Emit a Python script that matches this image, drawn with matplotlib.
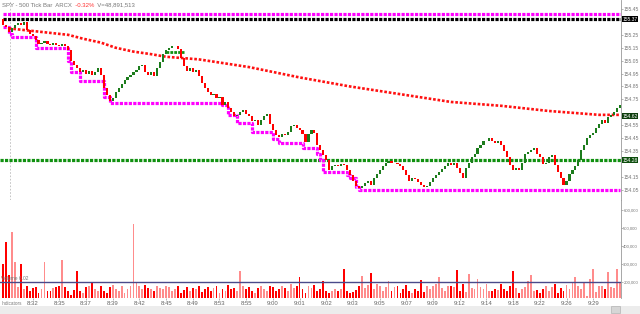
import numpy as np
import matplotlib
matplotlib.use("Agg")
import matplotlib.pyplot as plt
from matplotlib.patches import Rectangle

# SPY 500 tick bars
first_open = 155.37
closes = [
    155.33, 155.31, 155.27, 155.30, 155.33, 155.34, 155.33, 155.35, 155.29, 155.26,
    155.24, 155.21, 155.18, 155.19, 155.20, 155.18, 155.17, 155.19, 155.17, 155.16,
    155.18, 155.16, 155.13, 155.05, 155.02, 154.99, 154.96, 154.98, 154.95, 154.97,
    154.94, 154.96, 154.99, 154.94, 154.84, 154.78, 154.74, 154.76, 154.81, 154.84,
    154.87, 154.90, 154.92, 154.94, 154.96, 154.98, 155.01, 155.02, 154.96, 154.94,
    154.96, 154.93, 154.99, 155.04, 155.10, 155.13, 155.15, 155.16, 155.16, 155.14,
    155.07, 155.01, 154.97, 154.99, 154.96, 154.98, 154.93, 154.88, 154.84, 154.81,
    154.78, 154.79, 154.76, 154.77, 154.71, 154.73, 154.68, 154.65, 154.62, 154.63,
    154.65, 154.67, 154.64, 154.62, 154.58, 154.59, 154.55, 154.59, 154.62, 154.64,
    154.56, 154.51, 154.47, 154.46, 154.48, 154.47, 154.50, 154.54, 154.55, 154.53,
    154.51, 154.48, 154.42, 154.48, 154.51, 154.49, 154.40, 154.36, 154.32, 154.28,
    154.20, 154.23, 154.24, 154.23, 154.25, 154.24, 154.20, 154.16, 154.12, 154.08,
    154.06, 154.08, 154.10, 154.12, 154.09, 154.14, 154.17, 154.20, 154.23, 154.26,
    154.27, 154.26, 154.26, 154.25, 154.23, 154.20, 154.16, 154.12, 154.14, 154.13,
    154.11, 154.09, 154.07, 154.08, 154.11, 154.14, 154.16, 154.19, 154.21, 154.23,
    154.26, 154.24, 154.26, 154.22, 154.18, 154.14, 154.22, 154.26, 154.30, 154.33,
    154.37, 154.40, 154.43, 154.43, 154.45, 154.43, 154.41, 154.43, 154.40, 154.35,
    154.30, 154.24, 154.20, 154.22, 154.20, 154.26, 154.33, 154.34, 154.36, 154.37,
    154.33, 154.30, 154.25, 154.26, 154.30, 154.32, 154.24, 154.19, 154.14, 154.09,
    154.12, 154.17, 154.20, 154.23, 154.28, 154.36, 154.40, 154.45, 154.47, 154.49,
    154.53, 154.56, 154.59, 154.57, 154.61, 154.63, 154.65, 154.68, 154.71,
]

# volume per bar, thousands of shares
volumes_k = [
    300, 420, 240, 480, 310, 170, 300, 160, 175, 150,
    165, 170, 140, 160, 310, 150, 150, 165, 170, 175,
    320, 170, 150, 130, 155, 260, 150, 140, 170, 180,
    200, 160, 150, 175, 150, 140, 170, 185, 160, 150,
    175, 140, 160, 175, 520, 200, 175, 160, 185, 165,
    160, 150, 175, 165, 160, 180, 170, 150, 160, 175,
    140, 155, 170, 150, 165, 160, 180, 145, 160, 170,
    150, 165, 175, 140, 160, 150, 185, 160, 165, 150,
    260, 175, 160, 170, 150, 140, 165, 175, 160, 150,
    180, 170, 150, 160, 175, 165, 150, 190, 165, 175,
    225, 160, 140, 175, 165, 185, 150, 160, 205, 150,
    140, 150, 160, 150, 160, 270, 150, 140, 145, 155,
    175, 235, 165, 185, 250, 160, 190, 175, 150, 170,
    205, 150, 170, 180, 140, 160, 185, 150, 140, 160,
    150, 210, 145, 180, 160, 175, 190, 225, 165, 150,
    175, 180, 170, 265, 150, 190, 145, 245, 165, 160,
    215, 170, 160, 190, 150, 150, 160, 155, 190, 160,
    150, 175, 260, 165, 140, 160, 170, 205, 240, 150,
    155, 140, 160, 175, 150, 170, 190, 140, 165, 150,
    185, 160, 195, 225, 180, 160, 195, 120, 215, 270,
    145, 180, 175, 160, 255, 170, 165, 270, 195,
]
avg_volume = 200000

# moving average, sampled along the bars
ma_bars = [2, 10, 22, 27, 33, 38, 44, 50, 55, 66, 83, 100, 117, 134, 151, 168, 184, 201, 208]
ma_values = [155.30, 155.28, 155.25, 155.22, 155.19, 155.15, 155.12, 155.10, 155.08, 155.06,
             155.00, 154.92, 154.85, 154.79, 154.73, 154.70, 154.66, 154.63, 154.63]

# trailing low (magenta steps): bar where each step starts and its level
support_bars = [0, 2, 3, 11, 22, 23, 26, 34, 36, 74, 76, 79, 84, 91, 93, 101, 106, 107, 108, 116, 117, 119, 120]
support_levels = [155.31, 155.26, 155.23, 155.15, 155.05, 154.96, 154.89, 154.77, 154.72, 154.71,
                  154.63, 154.57, 154.50, 154.44, 154.41, 154.37, 154.33, 154.28, 154.19, 154.16,
                  154.14, 154.07, 154.05]

high_line = 155.41
prev_close = 155.37
pivot = 154.28
ma_last = 154.62
short_res_bars = [55, 61]
short_res_level = 155.12

# right-axis price ticks (the ones under the value boxes are hidden there)
price_ticks = [155.45, 155.25, 155.15, 155.05, 154.95, 154.85, 154.75, 154.55,
               154.45, 154.35, 154.15, 154.05]
volume_ticks = [200000, 300000, 400000, 500000, 600000]

time_bars = [10 + 9 * k for k in range(22)]
time_labels = ["8:32", "8:35", "8:37", "8:39", "8:42", "8:45", "8:49", "8:53", "8:55", "9:00", "9:01",
               "9:02", "9:03", "9:05", "9:07", "9:09", "9:12", "9:14", "9:18", "9:22", "9:26", "9:29"]

plt.rcParams['font.family'] = ['Liberation Sans', 'DejaVu Sans']

n = len(closes)
x = np.arange(n)
opens = np.array([first_open] + closes[:-1])
c = np.array(closes)
up = c >= opens

fig = plt.figure(figsize=(6.4, 3.14), dpi=100)
ax = fig.add_axes([0, 0.363, 0.970, 0.637])
axv = fig.add_axes([0, 0.051, 0.970, 0.312], sharex=ax)

xmin, xmax = -1.0, 208.3
ax.set_xlim(xmin, xmax)
ax.set_ylim(153.97, 155.52)

dot = (0, (1.0, 0.4))
ax.hlines(high_line, 0, xmax, color='#ff00ff', lw=2.3, linestyles=[dot], zorder=3)
ax.hlines(prev_close, 0, xmax, color='black', lw=2.3, linestyles=[dot], zorder=3)
ax.hlines(pivot, xmin, xmax, color='#109010', lw=2.3, linestyles=[dot], zorder=3)
ax.hlines(short_res_level, short_res_bars[0], short_res_bars[1], color='#109010', lw=2.0, linestyles=[dot], zorder=3)
ax.axvline(2.3, color='#bbbbbb', lw=0.6, ls=(0, (2, 2)), zorder=1)

ax.plot(ma_bars, ma_values, color='#ff1010', lw=1.9, ls=(0, (1.0, 0.7)), zorder=4)

sx = support_bars + [n - 1]
sy = support_levels + [support_levels[-1]]
ax.step(sx, sy, where='post', color='#ff00ff', lw=2.3, ls=(0, (1.0, 0.4)), zorder=3)

body = c - opens
ax.bar(x, body, bottom=opens, width=0.72, color=np.where(up, '#1c7c1c', '#ff0000'), lw=0, zorder=5)

for a in (ax, axv):
    for s in ('top', 'left', 'bottom'):
        a.spines[s].set_visible(False)
    a.spines['right'].set_color('#999999')
    a.spines['right'].set_linewidth(0.6)
    a.yaxis.tick_right()
    a.tick_params(axis='y', labelsize=3.6, colors='#999999', labelcolor='#777777', length=1.2, width=0.5, pad=0.6)
axv.tick_params(axis='y', labelsize=3.1)

ax.set_yticks(price_ticks)
ax.yaxis.set_major_formatter(plt.FuncFormatter(lambda v, p: f"{v:.2f}"))
ax.tick_params(axis='x', bottom=False, labelbottom=False)

for lvl, bg in ((prev_close, 'black'), (ma_last, '#0d3d0d'), (pivot, '#0d4d0d')):
    ax.annotate(f"{lvl:.2f}", xy=(1.0, lvl), xycoords=('axes fraction', 'data'), xytext=(1.0, 0),
                textcoords='offset points', ha='left', va='center', fontsize=3.6, color='white',
                bbox=dict(boxstyle='square,pad=0.12', fc=bg, ec='none'), zorder=10, annotation_clip=False)

vol = np.array(volumes_k) * 1000
axv.bar(x, vol, width=0.62, color=np.where(up, '#ff8c8c', '#ff0000'), lw=0)
axv.axhline(avg_volume, color='#4a4a8a', lw=1.0)
axv.set_ylim(111000, 655000)
axv.set_yticks(volume_ticks)
axv.yaxis.set_major_formatter(plt.FuncFormatter(lambda v, p: f"{int(v):,}"))
axv.set_xticks(time_bars)
axv.set_xticklabels(time_labels)
axv.tick_params(axis='x', labelsize=4.3, labelcolor='#666666', length=1.5, width=0.5, colors='#999999', pad=1)
axv.text(0.002, 0.2, "Volume 6.02", transform=axv.transAxes, fontsize=3.5, color='#777777', va='center')

# title line, pieces chained one after another
t1 = fig.text(0.003, 0.992, "SPY - 500 Tick Bar  ARCX", fontsize=4.3, color='#777777', va='top')
t2 = fig.text(0, 0, "  -0.32%", fontsize=4.3, color='#ff3030', va='top')
t3 = fig.text(0, 0, "  V=48,891,513", fontsize=4.3, color='#777777', va='top')
fig.canvas.draw()
r = fig.canvas.get_renderer()
inv = fig.transFigure.inverted()
b1 = t1.get_window_extent(r).transformed(inv)
t2.set_position((b1.x1, 0.992))
b2 = t2.get_window_extent(r).transformed(inv)
t3.set_position((b2.x1, 0.992))

# bottom strip like the scroll bar
fig.patches.append(Rectangle((0, 0), 1, 0.027, transform=fig.transFigure, fc='#ececec', ec='none', zorder=0))
fig.patches.append(Rectangle((0.955, 0.003), 0.014, 0.022, transform=fig.transFigure, fc='#d6d6d6', ec='#aaaaaa', lw=0.4))
fig.text(0.003, 0.032, "Indicators", fontsize=3.3, color='#777777', va='center')

fig.savefig("out.png", dpi=100)
